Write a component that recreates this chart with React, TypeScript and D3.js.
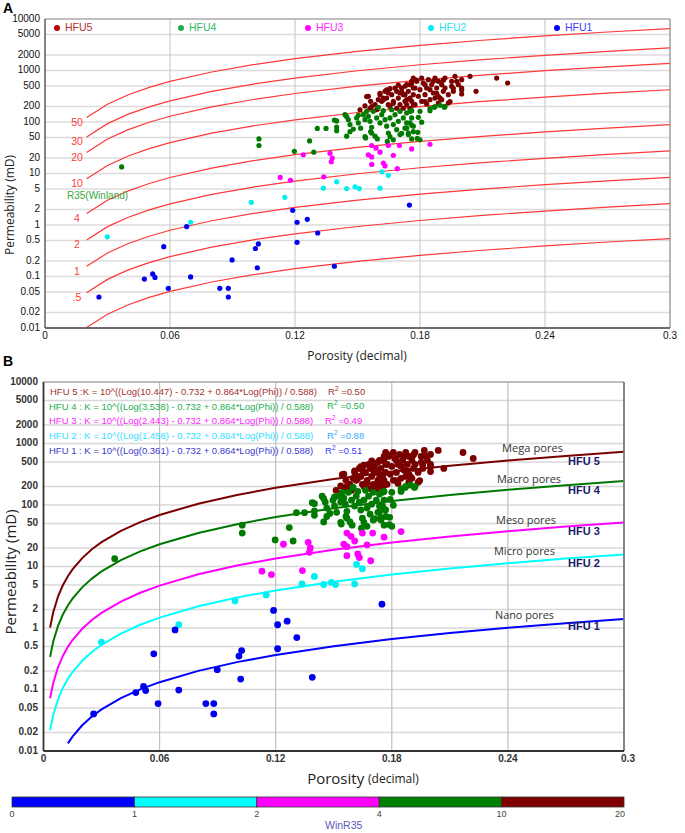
import React from 'react';
import * as d3 from 'd3';

const FONT = "'Liberation Sans', Arial, sans-serif";
const FONT2 = "'Open Sans', 'Liberation Sans', sans-serif";

// ---------- axis ticks ----------
const porosityTicks = [0, 0.06, 0.12, 0.18, 0.24, 0.3];
const porosityTickLabels = ['0', '0.06', '0.12', '0.18', '0.24', '0.3'];
const permTicks = [0.01, 0.02, 0.05, 0.1, 0.2, 0.5, 1, 2, 5, 10, 20, 50, 100, 200, 500, 1000, 2000, 5000, 10000];
const permTickLabels = ['0.01', '0.02', '0.05', '0.1', '0.2', '0.5', '1', '2', '5', '10', '20', '50', '100', '200', '500', '1000', '2000', '5000', '10000'];

// ---------- HFU data: [porosity (decimal), permeability (mD)] ----------
const hfuNames = ['HFU1', 'HFU2', 'HFU3', 'HFU4', 'HFU5'];
const hfuPointColors = ['#0000f0', '#00f0f0', '#ff00ff', '#007a00', '#7a0000'];

const hfu1Points: [number, number][] = [
  [0.0259, 0.04], [0.0477, 0.089], [0.0517, 0.112], [0.0528, 0.096], [0.057, 0.38], [0.0592, 0.059],
  [0.068, 0.93], [0.0699, 0.098], [0.0839, 0.059], [0.088, 0.059], [0.088, 0.04], [0.0898, 0.21],
  [0.101, 0.35], [0.1019, 0.148], [0.1024, 0.43], [0.1189, 1.93], [0.121, 1.13], [0.121, 0.46],
  [0.1259, 1.29], [0.1309, 0.7], [0.1389, 0.158], [0.1749, 2.44],
];
const hfu2Points: [number, number][] = [
  [0.0299, 0.59], [0.0699, 1.13], [0.099, 2.76], [0.1151, 3.45], [0.1336, 5.2], [0.14, 6.9],
  [0.1448, 5.1], [0.1488, 5.5], [0.1509, 5.1], [0.1608, 5.2], [0.1618, 10.8], [0.1648, 9.2],
];
const hfu3Points: [number, number][] = [
  [0.1129, 8.4], [0.1178, 7.4], [0.1338, 8.6], [0.124, 23], [0.1368, 24.7], [0.1379, 20], [0.1374, 17],
  [0.1568, 35], [0.1589, 31], [0.1552, 23], [0.1568, 21], [0.1608, 26], [0.1648, 35], [0.1701, 35],
  [0.176, 30], [0.1568, 15], [0.1624, 16], [0.1632, 14], [0.1691, 12.4], [0.1672, 22.5], [0.1848, 37],
];
const hfu4Points: [number, number][] = [
  [0.0368, 13.4], [0.1027, 47], [0.1027, 35], [0.1197, 27], [0.127, 43], [0.129, 26], [0.1307, 75],
  [0.1349, 75], [0.1389, 109], [0.14, 105], [0.14, 80], [0.14, 68],
  [0.1448, 53], [0.144, 139], [0.1456, 111], [0.1464, 89], [0.148, 73], [0.1496, 120], [0.1504, 96],
  [0.1515, 76], [0.1528, 139], [0.1536, 111], [0.1544, 161], [0.1552, 129], [0.156, 103], [0.1568, 79],
  [0.1539, 49], [0.1568, 61], [0.1584, 53], [0.1595, 47], [0.1576, 161], [0.1592, 120], [0.1608, 96],
  [0.1616, 139], [0.1624, 166], [0.1632, 111], [0.164, 83], [0.1648, 61], [0.1656, 120], [0.1664, 173],
  [0.1672, 89], [0.168, 139], [0.1688, 71], [0.1643, 42], [0.1672, 45], [0.1696, 103], [0.1704, 161],
  [0.1704, 57], [0.172, 120], [0.1728, 76], [0.1736, 96], [0.1744, 57], [0.1752, 161], [0.176, 120],
  [0.1768, 83], [0.16, 193],
  [0.1896, 211], [0.1917, 193], [0.1869, 193], [0.1848, 166], [0.18, 161], [0.176, 166], [0.1736, 150],
  [0.1792, 123], [0.1752, 96], [0.1808, 99], [0.1736, 76], [0.176, 86], [0.1789, 63], [0.1744, 61],
  [0.176, 47], [0.18, 45],
  [0.1536, 52], [0.1464, 65], [0.1563, 65], [0.1656, 52], [0.1712, 60], [0.1768, 65], [0.1787, 48],
  [0.1448, 127], [0.1504, 135], [0.1848, 182], [0.1872, 200], [0.192, 200],
];
const hfu5Points: [number, number][] = [
  [0.1552, 316], [0.1563, 252], [0.1512, 173], [0.1584, 217], [0.1592, 173], [0.1608, 339], [0.1616, 252],
  [0.1632, 394], [0.164, 292], [0.1648, 217], [0.1656, 443], [0.1664, 339], [0.1672, 252], [0.1688, 394],
  [0.1696, 292], [0.1704, 217], [0.1712, 457], [0.172, 339], [0.1728, 252], [0.1736, 530], [0.1744, 394],
  [0.1752, 292], [0.176, 617], [0.1768, 217], [0.1768, 457],
  [0.204, 771], [0.2168, 714], [0.2221, 572], [0.2069, 394], [0.2, 663], [0.2, 457], [0.2, 350],
  [0.1976, 617], [0.1968, 771], [0.1952, 494], [0.192, 714], [0.1936, 339], [0.1904, 530], [0.1912, 394],
  [0.1888, 617], [0.188, 457], [0.1888, 316], [0.1872, 714], [0.1856, 530], [0.1864, 366], [0.1848, 271],
  [0.184, 663], [0.1832, 457], [0.1824, 339], [0.1816, 572], [0.1808, 252], [0.18, 424], [0.1792, 316],
  [0.1784, 617], [0.1776, 457], [0.1768, 339], [0.176, 252], [0.1752, 530], [0.1736, 271], [0.1936, 234],
  [0.1888, 234], [0.1832, 224],
  [0.1544, 311], [0.1568, 200], [0.1608, 360], [0.1624, 270], [0.164, 420], [0.1656, 200], [0.1672, 230],
  [0.1696, 520], [0.1712, 385], [0.176, 560], [0.1784, 650], [0.1824, 250], [0.188, 360], [0.1896, 290],
  [0.1912, 650], [0.1944, 250], [0.196, 450], [0.2, 420],
  [0.1736, 217], [0.1704, 366], [0.168, 457], [0.1648, 366], [0.1624, 292], [0.16, 271], [0.156, 185],
  [0.1536, 205], [0.1688, 185], [0.172, 185], [0.1752, 185],
  [0.1728, 494], [0.1728, 339], [0.1776, 217], [0.1872, 292], [0.1904, 271], [0.192, 457], [0.196, 394],
  [0.1952, 617], [0.1984, 530], [0.1848, 424], [0.1864, 617], [0.1808, 714], [0.1768, 714], [0.1824, 530],
];
const hfuPoints = [hfu1Points, hfu2Points, hfu3Points, hfu4Points, hfu5Points];

// ---------- Winland R35 iso-lines (panel A) ----------
const r35Values = [50, 30, 20, 10, 4, 2, 1, 0.5, 0.2];
const r35Labels = ['50', '30', '20', '10', '4', '2', '1', '.5', ''];
const winlandA = 0.732;
const winlandB = 0.588;
const winlandC = 0.864;
const winlandPhi = [0.02, 0.03, 0.04, 0.05, 0.06, 0.08, 0.1, 0.12, 0.15, 0.18, 0.21, 0.24, 0.27, 0.3];

// ---------- HFU fitted curves (panel B) ----------
const hfuCurveKAt30 = [1.4, 15.7, 52, 245, 733]; // K at phi = 0.3
const hfuCurveStart = [0.0126, 0.0034, 0.0034, 0.0034, 0.0034];
const hfuCurveColors = ['#0000ff', '#00ffff', '#ff00ff', '#007800', '#7a0000'];
const curvePhi = [0.0034, 0.005, 0.0075, 0.01, 0.0126, 0.015, 0.02, 0.025, 0.03, 0.04, 0.05, 0.06, 0.08, 0.1, 0.12, 0.15, 0.18, 0.21, 0.24, 0.27, 0.3];

const eqTexts = [
  'HFU 1 : K = 10^((Log(0.361) - 0.732 + 0.864*Log(Phi)) / 0.588)',
  'HFU 2 : K = 10^((Log(1.458) - 0.732 + 0.864*Log(Phi)) / 0.588)',
  'HFU 3 : K = 10^((Log(2.443) - 0.732 + 0.864*Log(Phi)) / 0.588)',
  'HFU 4 : K = 10^((Log(3.538) - 0.732 + 0.864*Log(Phi)) / 0.588)',
  'HFU 5 :K = 10^((Log(10.447) - 0.732 + 0.864*Log(Phi)) / 0.588)',
];
const r2Values = ['0.51', '0.88', '0.49', '0.50', '0.50'];
const poreNames = ['Nano pores', 'Micro pores', 'Meso pores', 'Macro pores', 'Mega pores'];
const hfuLabels = ['HFU 1', 'HFU 2', 'HFU 3', 'HFU 4', 'HFU 5'];

// ---------- colour bar ----------
const cbarBreaks = ['0', '1', '2', '4', '10', '20'];
const cbarColors = ['#0000ff', '#00ffff', '#ff00ff', '#008000', '#800000'];

// ---------- layout ----------
const A = { left: 45, right: 670, top: 19, bottom: 328 };
const B = { left: 43.5, right: 624, top: 382, bottom: 751 };

function Grid({ x, y, box, hColor, vColor, hW, vW }: any) {
  return (
    <g>
      {permTicks.map((t) => (
        <line key={'h' + t} x1={box.left} x2={box.right} y1={y(t)} y2={y(t)} stroke={hColor} strokeWidth={hW} />
      ))}
      {porosityTicks.slice(1, -1).map((t) => (
        <line key={'v' + t} x1={x(t)} x2={x(t)} y1={box.top} y2={box.bottom} stroke={vColor} strokeWidth={vW} />
      ))}
    </g>
  );
}

export default function App() {
  const xA = d3.scaleLinear().domain([0, 0.3]).range([A.left, A.right]);
  const yA = d3.scaleLog().domain([0.01, 10000]).range([A.bottom, A.top]);
  const xB = d3.scaleLinear().domain([0, 0.3]).range([B.left, B.right]);
  const yB = d3.scaleLog().domain([0.01, 10000]).range([B.bottom, B.top]);

  const winlandK = (r35: number, phi: number) =>
    Math.pow(10, (Math.log10(r35) - winlandA + winlandC * Math.log10(phi * 100)) / winlandB);
  const lineA = d3.line<[number, number]>().x((d) => xA(d[0])).y((d) => yA(d[1]));
  const lineB = d3.line<[number, number]>().x((d) => xB(d[0])).y((d) => yB(d[1]));
  const expo = winlandC / winlandB;

  const legendX = [557, 431, 308, 181, 57];
  const legendDot = ['#0000ff', '#00eeff', '#ff00ff', '#1fae4f', '#c00000'];
  const legendText = ['#3b3bff', '#2ee0f0', '#ff2bff', '#2eb85c', '#b03030'];

  const eqY = [451, 436, 421, 407, 392];
  const eqX = [49, 49, 49, 49, 50];
  const eqColor = ['#3a3acc', '#33e0ff', '#ff22ff', '#22b050', '#a33030'];
  const r2X = [325, 327, 325, 327, 328];
  const r2Y = [451, 436, 421, 406, 392];
  const r2Color = ['#3b3bff', '#33aaff', '#ff22ff', '#22b050', '#a33030'];

  const poreX = [495, 494, 496, 497, 502];
  const poreY = [616, 552, 521, 480, 449];
  const poreLen = [59, 61, 60, 64, 61];
  const hfuLabY = [627, 564, 532, 491, 462];

  const cbX = d3.scaleLinear().domain([0, 5]).range([12, 624]);

  const drawOrder = [4, 3, 2, 1, 0];

  return (
    <svg width={685} height={833} style={{ position: 'absolute', left: 0, top: 0, background: '#fff' }} fontFamily={FONT}>
      <rect x={0} y={0} width={685} height={833} fill="#fff" />

      {/* ================= PANEL A ================= */}
      <text x={3} y={13} fontSize={14} fontWeight="bold" fill="#000">A</text>
      <Grid x={xA} y={yA} box={A} hColor="#dcdcdc" vColor="#c4c4c4" hW={1.6} vW={1} />

      {r35Values.map((r) => (
        <path key={'w' + r} d={lineA(winlandPhi.map((p) => [p, winlandK(r, p)] as [number, number])) || ''}
          fill="none" stroke="#ff3838" strokeWidth={1.2} />
      ))}
      {r35Values.map((r, i) => r35Labels[i] ? (
        <text key={'wl' + r} x={77} y={yA(winlandK(r, winlandPhi[0])) + 5.5} fontSize={10.5} fill="#ff3b3b"
          textAnchor="middle" dominantBaseline="middle">{r35Labels[i]}</text>
      ) : null)}
      <text x={67} y={196} fontSize={10} fill="#3aa83a" dominantBaseline="middle">R35(Winland)</text>

      {drawOrder.map((h) => (
        <g key={'pa' + h}>
          {hfuPoints[h].map((d, j) => (
            <circle key={j} cx={xA(d[0])} cy={yA(d[1])} r={2.6} fill={hfuPointColors[h]} />
          ))}
        </g>
      ))}

      {/* legend */}
      {hfuNames.map((n, i) => (
        <g key={'lg' + n}>
          <circle cx={legendX[i]} cy={28} r={3} fill={legendDot[i]} />
          <text x={legendX[i] + 8} y={28} fontSize={10.5} fill={legendText[i]} dominantBaseline="middle">{n}</text>
        </g>
      ))}

      {/* frame A */}
      <line x1={A.left} x2={A.right} y1={A.top} y2={A.top} stroke="#999" strokeWidth={1} />
      <line x1={A.right} x2={A.right} y1={A.top} y2={A.bottom} stroke="#888" strokeWidth={1.2} />
      <line x1={A.left} x2={A.left} y1={A.top} y2={A.bottom} stroke="#444" strokeWidth={1.3} />
      <line x1={A.left} x2={A.right} y1={A.bottom} y2={A.bottom} stroke="#444" strokeWidth={1.3} />

      {permTicks.map((t, i) => (
        <text key={'ya' + t} x={40} y={yA(t)} fontSize={10} fill="#111" textAnchor="end" dominantBaseline="middle">{permTickLabels[i]}</text>
      ))}
      {porosityTicks.map((t, i) => (
        <text key={'xa' + t} x={xA(t)} y={336} fontSize={10} fill="#111" textAnchor="middle" dominantBaseline="middle">{porosityTickLabels[i]}</text>
      ))}
      <text x={357} y={357} fontSize={12} fill="#222" textAnchor="middle" dominantBaseline="middle" fontFamily={FONT2}>Porosity (decimal)</text>
      <text transform="translate(11,205) rotate(-90)" fontSize={12} fill="#222" textAnchor="middle" dominantBaseline="middle" fontFamily={FONT2}>Permeability (mD)</text>

      {/* ================= PANEL B ================= */}
      <text x={3} y={366} fontSize={14} fontWeight="bold" fill="#000">B</text>
      <Grid x={xB} y={yB} box={B} hColor="#d8d8d8" vColor="#c0c0c0" hW={1.5} vW={1.2} />

      {[0, 1, 2, 3, 4].map((h) => (
        <path key={'c' + h}
          d={lineB(curvePhi.filter((p) => p >= hfuCurveStart[h]).map((p) => [p, hfuCurveKAt30[h] * Math.pow(p / 0.3, expo)] as [number, number])) || ''}
          fill="none" stroke={hfuCurveColors[h]} strokeWidth={2} />
      ))}

      {drawOrder.map((h) => (
        <g key={'pb' + h}>
          {hfuPoints[h].map((d, j) => (
            <circle key={j} cx={xB(d[0])} cy={yB(d[1])} r={3.4} fill={hfuPointColors[h]} />
          ))}
        </g>
      ))}

      {/* equations */}
      {eqTexts.map((t, i) => (
        <g key={'eq' + i}>
          <text x={eqX[i]} y={eqY[i]} fontSize={9.5} fill={eqColor[i]} dominantBaseline="middle">{t}</text>
          <text x={r2X[i]} y={r2Y[i]} fontSize={9.5} fill={r2Color[i]} dominantBaseline="middle">
            R<tspan fontSize={6.5} dy={-3}>2</tspan><tspan dy={3}> =</tspan>{r2Values[i]}
          </text>
        </g>
      ))}

      {/* pore labels */}
      {poreNames.map((p, i) => (
        <g key={'pl' + i}>
          <text x={poreX[i]} y={poreY[i]} fontSize={11.5} fill="#333" dominantBaseline="middle" fontFamily={FONT2}
            textLength={poreLen[i]} lengthAdjust="spacingAndGlyphs">{p}</text>
          <text x={568} y={hfuLabY[i]} fontSize={11} fontWeight="bold" fill="#1b1b6b" dominantBaseline="middle">{hfuLabels[i]}</text>
        </g>
      ))}

      {/* frame B */}
      <line x1={B.left} x2={B.right} y1={B.top} y2={B.top} stroke="#999" strokeWidth={1} />
      <line x1={B.right} x2={B.right} y1={B.top} y2={B.bottom} stroke="#777" strokeWidth={1.8} />
      <line x1={B.left} x2={B.left} y1={B.top} y2={B.bottom} stroke="#333" strokeWidth={1.8} />
      <line x1={B.left} x2={B.right} y1={B.bottom} y2={B.bottom} stroke="#333" strokeWidth={1.8} />

      {permTicks.map((t, i) => (
        <text key={'yb' + t} x={38} y={yB(t)} fontSize={10} fontWeight="bold" fill="#333" textAnchor="end" dominantBaseline="middle">{permTickLabels[i]}</text>
      ))}
      {porosityTicks.map((t, i) => (
        <text key={'xb' + t} x={xB(t) + (i === 5 ? 4 : 0)} y={759} fontSize={10} fontWeight="bold" fill="#333" textAnchor="middle" dominantBaseline="middle">{porosityTickLabels[i]}</text>
      ))}
      <text x={363} y={780} textAnchor="middle" dominantBaseline="middle" fill="#222" fontFamily={FONT2}>
        <tspan fontSize={15}>Porosity </tspan><tspan fontSize={12}>(decimal)</tspan>
      </text>
      <text transform="translate(12,572) rotate(-90)" fontSize={15} fill="#222" textAnchor="middle" dominantBaseline="middle" fontFamily={FONT2}>Permeability (mD)</text>

      {/* colour bar */}
      {cbarColors.map((c, i) => (
        <rect key={'cb' + i} x={cbX(i)} y={797} width={cbX(i + 1) - cbX(i)} height={10} fill={c} stroke="#333" strokeWidth={0.8} />
      ))}
      {cbarBreaks.map((b, i) => (
        <text key={'cbl' + i} x={cbX(i) - (i === 5 ? 4 : 0)} y={815} fontSize={9} fill="#444" textAnchor="middle" dominantBaseline="middle">{b}</text>
      ))}
      <text x={325} y={826} fontSize={10.5} fill="#5a5ab4" dominantBaseline="middle">WinR35</text>
    </svg>
  );
}
